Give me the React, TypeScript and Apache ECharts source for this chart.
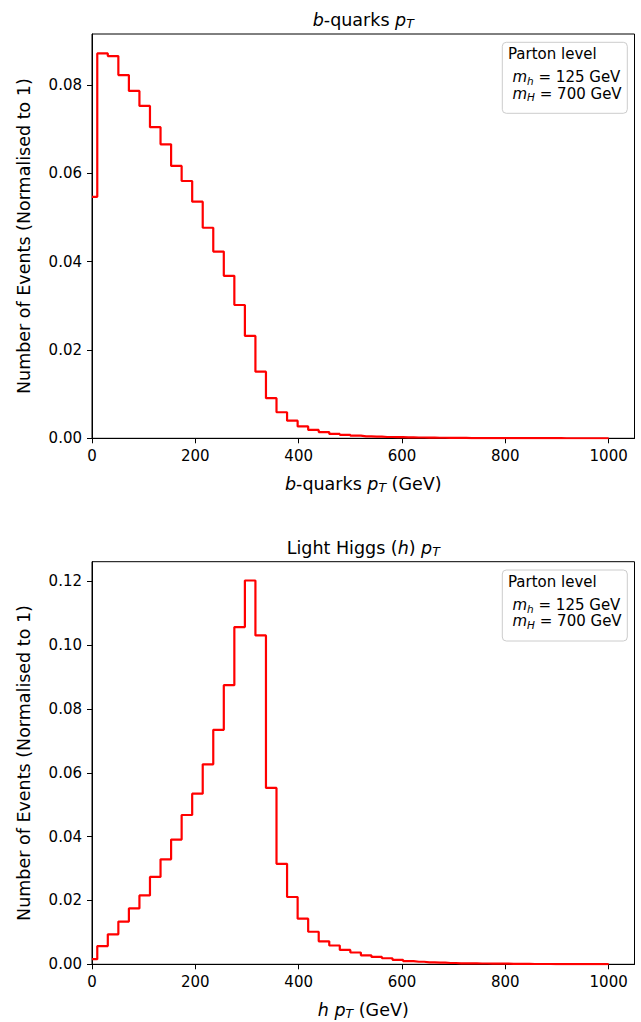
import React, { useEffect, useRef } from 'react';
import * as echarts from 'echarts';

// Bin centres (GeV) of the 50 histogram points
const BIN_CENTERS = [
  0, 20.4, 40.8, 61.2, 81.6, 102.0, 122.4, 142.9, 163.3, 183.7,
  204.1, 224.5, 244.9, 265.3, 285.7, 306.1, 326.5, 346.9, 367.3, 387.8,
  408.2, 428.6, 449.0, 469.4, 489.8, 510.2, 530.6, 551.0, 571.4, 591.8,
  612.2, 632.7, 653.1, 673.5, 693.9, 714.3, 734.7, 755.1, 775.5, 795.9,
  816.3, 836.7, 857.1, 877.6, 898.0, 918.4, 938.8, 959.2, 979.6, 1000.0,
];

// b-quarks pT, normalised
const BQUARK_PT = [
  0.0547, 0.0872, 0.0866, 0.0823, 0.0787, 0.0753, 0.0705, 0.0666, 0.0617, 0.0583,
  0.0536, 0.0477, 0.0423, 0.0368, 0.0302, 0.0232, 0.0151, 0.0091, 0.0059, 0.0040,
  0.0027, 0.0019, 0.0014, 0.0010, 0.00078, 0.0006, 0.00045, 0.0004, 0.0003, 0.00025,
  0.0002, 0.00018, 0.00015, 0.00012, 0.0001, 0.00008, 0.00006, 0.00005, 0.00004, 0.00004,
  0.00003, 0.00003, 0.00002, 0.00002, 0.00002, 0.00001, 0.00001, 0.00001, 0.00001, 0.00001,
];

// Light Higgs pT, normalised
const HIGGS_PT = [
  0.0016, 0.0057, 0.0094, 0.0134, 0.0175, 0.0216, 0.0274, 0.0329, 0.0391, 0.0468,
  0.0535, 0.0627, 0.0735, 0.0875, 0.1057, 0.1203, 0.1031, 0.0553, 0.0315, 0.0211,
  0.0143, 0.0102, 0.0072, 0.0059, 0.0045, 0.0037, 0.0028, 0.0023, 0.0019, 0.0014,
  0.0010, 0.0008, 0.0006, 0.0005, 0.0004, 0.0003, 0.0003, 0.00025, 0.0002, 0.0002,
  0.00015, 0.00012, 0.0001, 0.0001, 0.00008, 0.00007, 0.00006, 0.00005, 0.00005, 0.00004,
];

const X_TICKS = [0, 200, 400, 600, 800, 1000];
const Y_TICKS_TOP = [0, 0.02, 0.04, 0.06, 0.08];
const Y_TICKS_BOTTOM = [0, 0.02, 0.04, 0.06, 0.08, 0.1, 0.12];

const TITLES = ['{i|b}-quarks {i|p}{sub|T}', 'Light Higgs ({i|h}) {i|p}{sub|T}'];
const X_NAMES = ['{i|b}-quarks {i|p}{sub|T} (GeV)', '{i|h} {i|p}{sub|T} (GeV)'];
const Y_NAME = 'Number of Events (Normalised to 1)';
const LEGEND_LINES = ['Parton level', '{i|m}{sub|h} = 125 GeV', '{i|m}{sub|H} = 700 GeV'];

const FONT = 'DejaVu Sans';
const TICK_FS = 15;
const LABEL_FS = 17.5;

export default function App() {
  const ref = useRef<HTMLDivElement>(null);

  useEffect(() => {
    if (!ref.current) return;
    const chart = echarts.init(ref.current, undefined, { renderer: 'svg' });

    const richAxis = {
      i: { fontStyle: 'italic', fontFamily: FONT, fontSize: LABEL_FS, color: '#000', lineHeight: 20 },
      sub: { fontStyle: 'italic', fontFamily: FONT, fontSize: 12.5, color: '#000', lineHeight: 12, verticalAlign: 'bottom' },
    };
    const richTitle = {
      i: { fontStyle: 'italic', fontFamily: FONT, fontSize: LABEL_FS, fill: '#000', lineHeight: 20 },
      sub: { fontStyle: 'italic', fontFamily: FONT, fontSize: 12.5, fill: '#000', lineHeight: 12, verticalAlign: 'bottom' },
    };
    const richLegend = {
      i: { fontStyle: 'italic', fontFamily: FONT, fontSize: TICK_FS, fill: '#000', lineHeight: 18 },
      sub: { fontStyle: 'italic', fontFamily: FONT, fontSize: 10.5, fill: '#000', lineHeight: 10, verticalAlign: 'bottom' },
    };

    const grids = [
      { left: 92, top: 34, width: 542.5, height: 404.3 },
      { left: 92, top: 561.7, width: 542.5, height: 402.6 },
    ];
    const yMax = [0.0916, 0.1262];
    const yTicks = [Y_TICKS_TOP, Y_TICKS_BOTTOM];
    const seriesData = [BQUARK_PT, HIGGS_PT];

    const graphic: any[] = [];
    grids.forEach((g, k) => {
      graphic.push({
        type: 'text',
        x: g.left + g.width / 2,
        y: g.top - 14,
        style: {
          text: TITLES[k],
          fontSize: LABEL_FS,
          fontFamily: FONT,
          fill: '#000',
          lineHeight: 20,
          align: 'center',
          verticalAlign: 'middle',
          textAlign: 'center',
          textVerticalAlign: 'middle',
          rich: richTitle,
        },
      });
      const bx = 502.3;
      const by = g.top + 8.3;
      graphic.push({
        type: 'rect',
        shape: { x: bx, y: by, width: 125, height: 71, r: 4 },
        style: { fill: 'rgba(255,255,255,0.8)', stroke: '#cccccc', lineWidth: 1 },
        z: 10,
      });
      const lineY = [20, 43.3, 59.5];
      const lineX = [508, 512.5, 512.5];
      LEGEND_LINES.forEach((t, j) => {
        graphic.push({
          type: 'text',
          x: lineX[j],
          y: g.top + lineY[j],
          z: 11,
          style: {
            text: t,
            fontSize: TICK_FS,
            fontFamily: FONT,
            fill: '#000',
            lineHeight: 18,
            align: 'left',
            verticalAlign: 'middle',
            textAlign: 'left',
            textVerticalAlign: 'middle',
            rich: richLegend,
          },
        });
      });
    });

    const option: any = {
      animation: false,
      backgroundColor: '#fff',
      grid: grids.map((g) => ({
        ...g,
        show: true,
        borderColor: '#000',
        borderWidth: 1,
        backgroundColor: 'transparent',
        containLabel: false,
      })),
      xAxis: grids.map((_, k) => ({
        type: 'value',
        gridIndex: k,
        min: 0,
        max: 1050,
        axisLine: { show: true, onZero: false, lineStyle: { color: '#000', width: 1 } },
        axisTick: { show: true, length: 5, customValues: X_TICKS, lineStyle: { color: '#000', width: 1 } },
        axisLabel: {
          customValues: X_TICKS,
          fontSize: TICK_FS,
          fontFamily: FONT,
          color: '#000',
          margin: 10,
          formatter: (v: number) => String(Math.round(v)),
        },
        splitLine: { show: false },
        name: X_NAMES[k],
        nameLocation: 'middle',
        nameGap: 36,
        nameTextStyle: { fontSize: LABEL_FS, fontFamily: FONT, color: '#000', lineHeight: 20, rich: richAxis },
      })),
      yAxis: grids.map((_, k) => ({
        type: 'value',
        gridIndex: k,
        min: 0,
        max: yMax[k],
        axisLine: { show: true, onZero: false, lineStyle: { color: '#000', width: 1 } },
        axisTick: { show: true, length: 5, customValues: yTicks[k], lineStyle: { color: '#000', width: 1 } },
        axisLabel: {
          customValues: yTicks[k],
          fontSize: TICK_FS,
          fontFamily: FONT,
          color: '#000',
          margin: 10,
          formatter: (v: number) => v.toFixed(2),
        },
        splitLine: { show: false },
        name: Y_NAME,
        nameLocation: 'middle',
        nameGap: 59,
        nameTextStyle: { fontSize: LABEL_FS, fontFamily: FONT, color: '#000' },
      })),
      series: seriesData.map((vals, k) => ({
        type: 'line',
        xAxisIndex: k,
        yAxisIndex: k,
        step: 'middle',
        symbol: 'none',
        showSymbol: false,
        clip: true,
        lineStyle: { color: '#ff0000', width: 2.2 },
        data: BIN_CENTERS.map((x, i) => [x, vals[i]]),
      })),
      graphic,
    };

    chart.setOption(option);
    return () => chart.dispose();
  }, []);

  return (
    <div
      ref={ref}
      style={{ position: 'absolute', left: 0, top: 0, width: 641, height: 1022, background: '#fff' }}
    />
  );
}
